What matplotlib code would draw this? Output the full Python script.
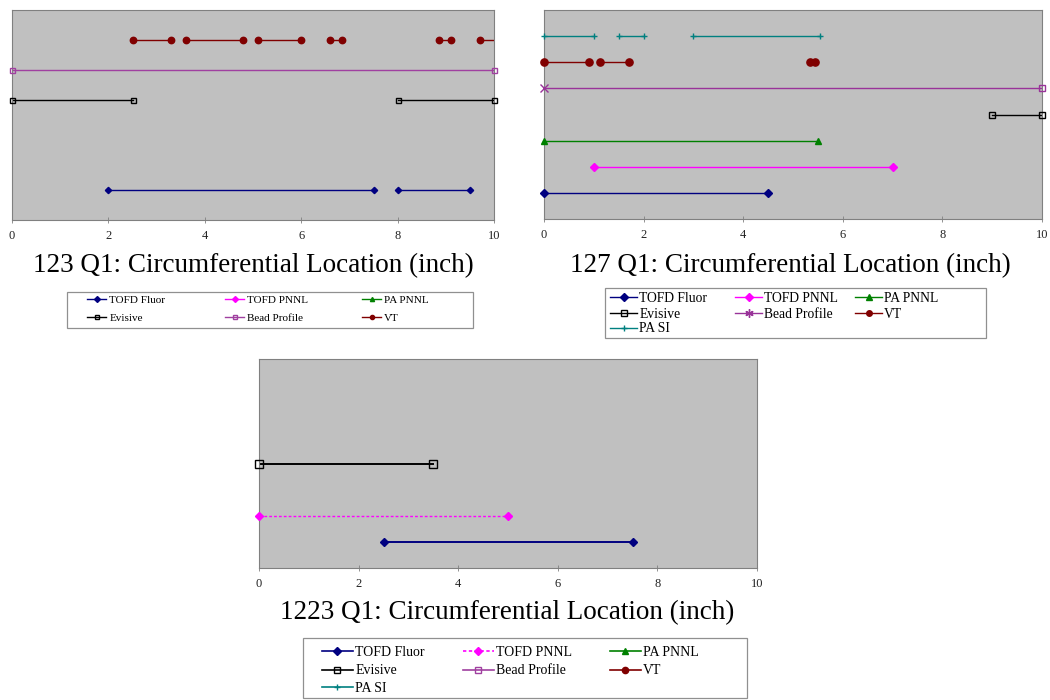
import matplotlib
matplotlib.use("Agg")
import matplotlib.pyplot as plt
from matplotlib.lines import Line2D
from matplotlib.patches import Rectangle

plt.rcParams['font.family'] = ['Liberation Serif', 'DejaVu Serif']

# ---------------- data ----------------
series_names = ["TOFD Fluor", "TOFD PNNL", "PA PNNL", "Evisive", "Bead Profile", "VT", "PA SI"]
x_ticks = [0, 2, 4, 6, 8, 10]

# chart 1: 123 Q1
c123_title = "123 Q1: Circumferential Location (inch)"
c123_tofd_fluor = [(2.0, 7.5), (8.0, 9.5)]
c123_tofd_pnnl = []
c123_pa_pnnl = []
c123_evisive = [(0.0, 2.5), (8.0, 10.0)]
c123_bead = [(0.0, 10.0)]
c123_vt = [(2.5, 3.3), (3.6, 4.8), (5.1, 6.0), (6.6, 6.85), (8.85, 9.1), (9.7, 10.2)]

# chart 2: 127 Q1
c127_title = "127 Q1: Circumferential Location (inch)"
c127_tofd_fluor = [(0.0, 4.5)]
c127_tofd_pnnl = [(1.0, 7.0)]
c127_pa_pnnl = [(0.0, 5.5)]
c127_evisive = [(9.0, 10.0)]
c127_bead = [(0.0, 10.0)]
c127_vt = [(0.0, 0.9), (1.13, 1.7), (5.35, 5.45)]
c127_pa_si = [(0.0, 1.0), (1.5, 2.0), (3.0, 5.55)]

# chart 3: 1223 Q1
c1223_title = "1223 Q1: Circumferential Location (inch)"
c1223_tofd_fluor = [(2.5, 7.5)]
c1223_tofd_pnnl = [(0.0, 5.0)]
c1223_evisive = [(0.0, 3.5)]

# ---------------- styles ----------------
colors = {
    "TOFD Fluor": "#000080",
    "TOFD PNNL": "#FF00FF",
    "PA PNNL": "#008000",
    "Evisive": "#000000",
    "Bead Profile": "#A040A0",
    "VT": "#800000",
    "PA SI": "#008080",
}
markers = {
    "TOFD Fluor": ("D", True),
    "TOFD PNNL": ("D", True),
    "PA PNNL": ("^", True),
    "Evisive": ("s", False),
    "Bead Profile": ("s", False),
    "VT": ("o", True),
    "PA SI": ("+", True),
}

W, H = 1050, 700
fig = plt.figure(figsize=(W / 100, H / 100), dpi=100)
BG = "#C0C0C0"


def px(x, y):
    return x / W, 1 - y / H


def add_ax(l, t, r, b):
    return fig.add_axes([l / W, 1 - b / H, (r - l) / W, (b - t) / H])


def setup(ax, ymax):
    ax.set_facecolor(BG)
    ax.set_xlim(0, 10)
    ax.set_ylim(0, ymax)
    ax.set_yticks([])
    ax.set_xticks(x_ticks)
    ax.set_xticklabels([str(t) for t in x_ticks])
    ax.tick_params(axis="x", direction="inout", length=4, width=0.6, colors="#808080",
                   labelcolor="#222222", labelsize=9, pad=5)
    for s in ax.spines.values():
        s.set_color("#808080")
        s.set_linewidth(0.8)


def draw(ax, name, segs, ms, lw=1.0, ls="-", start_marker=None, color=None):
    row = series_names.index(name) + 1
    mk, filled = markers[name]
    c = color or colors[name]
    mfc = c if filled else "none"
    for (a, b) in segs:
        ax.plot([a, b], [row, row], color=c, lw=lw, ls=ls, zorder=2)
        for xv, m in ((a, start_marker or mk), (b, mk)):
            ax.plot([xv], [row], ls="none", marker=m, ms=ms * (1.25 if m != mk else 1),
                    mfc=mfc, mec=c, mew=1.0, zorder=3, clip_on=not (0 <= xv <= 10))


def legend(rows, col_x, row_y, box, fontsize, hl, pad, ms, lw=1.0, over=None):
    over = over or {}
    l, t, r, b = box
    fig.patches.append(Rectangle(px(l, b), (r - l) / W, (b - t) / H, transform=fig.transFigure,
                                 fill=True, facecolor="white", edgecolor="#909090", lw=0.9,
                                 zorder=1))
    for ri, row in enumerate(rows):
        for ci, n in enumerate(row):
            mk, filled = markers[n]
            c = colors[n]
            kw = dict(color=c, lw=lw, marker=mk, ms=ms, mfc=c if filled else "none", mec=c)
            kw.update(over.get(n, {}))
            h = Line2D([], [], **kw)
            lg = fig.legend([h], [n], loc="center left", bbox_to_anchor=px(col_x[ci], row_y[ri]),
                            frameon=False, fontsize=fontsize, handlelength=hl,
                            handletextpad=pad, borderpad=0, borderaxespad=0)
            lg.set_zorder(2)


# ---------- chart 1 ----------
ax1 = add_ax(12, 10, 494, 220)
setup(ax1, 7)
draw(ax1, "TOFD Fluor", c123_tofd_fluor, ms=3.2)
draw(ax1, "TOFD PNNL", c123_tofd_pnnl, ms=3.2)
draw(ax1, "PA PNNL", c123_pa_pnnl, ms=3.5)
draw(ax1, "Evisive", c123_evisive, ms=3.6)
draw(ax1, "Bead Profile", c123_bead, ms=3.6)
draw(ax1, "VT", c123_vt, ms=4.6)
fig.text(*px(253, 266), c123_title, ha="center", va="center", fontsize=19.5)
legend([["TOFD Fluor", "TOFD PNNL", "PA PNNL"], ["Evisive", "Bead Profile", "VT"]],
       col_x=[87, 225, 362], row_y=[300, 318], box=(67, 292, 473, 328),
       fontsize=8, hl=1.75, pad=0.25, ms=3)

# ---------- chart 2 ----------
ax2 = add_ax(544, 10, 1042, 219)
setup(ax2, 8)
draw(ax2, "TOFD Fluor", c127_tofd_fluor, ms=4.2)
draw(ax2, "TOFD PNNL", c127_tofd_pnnl, ms=4.2)
draw(ax2, "PA PNNL", c127_pa_pnnl, ms=5)
draw(ax2, "Evisive", c127_evisive, ms=5)
draw(ax2, "Bead Profile", c127_bead, ms=5, start_marker="x", color="#993399")
draw(ax2, "VT", c127_vt, ms=5.2)
draw(ax2, "PA SI", c127_pa_si, ms=4.5)
fig.text(*px(790, 266), c127_title, ha="center", va="center", fontsize=19.5)
legend([["TOFD Fluor", "TOFD PNNL", "PA PNNL"], ["Evisive", "Bead Profile", "VT"], ["PA SI"]],
       col_x=[610, 735, 855], row_y=[298, 314, 329], box=(605, 288, 986, 338),
       fontsize=9.8, hl=2.0, pad=0.15, ms=4,
       over={"Bead Profile": dict(marker=(6, 2, 0), ms=6, color="#993399", mec="#993399")})

# ---------- chart 3 ----------
ax3 = add_ax(259, 359, 757, 568)
setup(ax3, 8)
draw(ax3, "TOFD Fluor", c1223_tofd_fluor, ms=4.5, lw=1.4)
draw(ax3, "TOFD PNNL", c1223_tofd_pnnl, ms=4.5, ls=(0, (2, 1.5)))
draw(ax3, "Evisive", c1223_evisive, ms=5.2, lw=1.4)
fig.text(*px(507, 613), c1223_title, ha="center", va="center", fontsize=19.5)
legend([["TOFD Fluor", "TOFD PNNL", "PA PNNL"], ["Evisive", "Bead Profile", "VT"], ["PA SI"]],
       col_x=[322, 463, 610], row_y=[652, 671, 688], box=(303, 638, 747, 698),
       fontsize=10, hl=2.2, pad=0.2, ms=4.5, lw=1.2,
       over={"TOFD PNNL": dict(ls=(0, (2, 1.5)))})

fig.savefig("out.png", dpi=100, facecolor="white")
